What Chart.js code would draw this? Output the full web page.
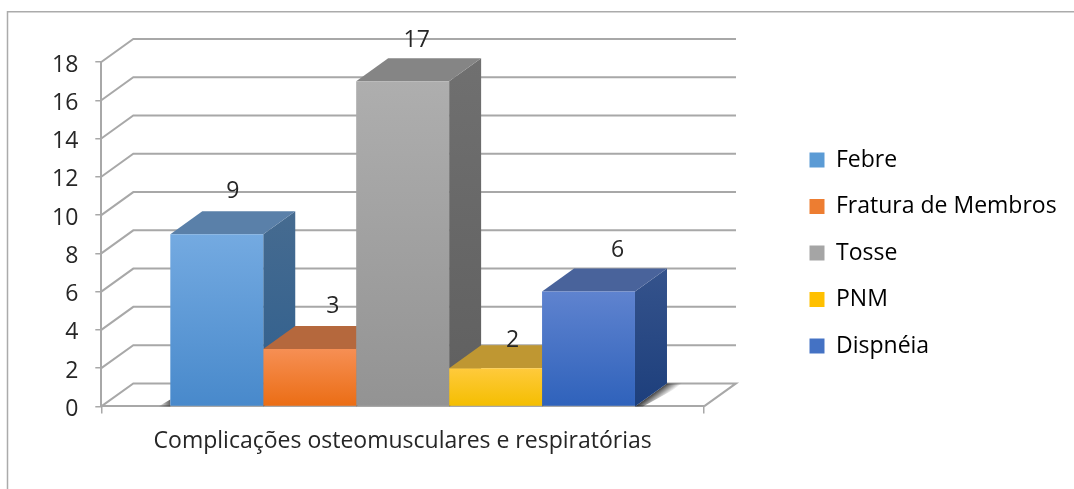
<!DOCTYPE html>
<html>
<head>
<meta charset="utf-8">
<title>Complicações osteomusculares e respiratórias</title>
<script src="https://cdn.jsdelivr.net/npm/chart.js@4"></script>
<style>
  html, body { margin: 0; padding: 0; background: #fff; }
  canvas { display: block; filter: blur(0.4px); }
</style>
</head>
<body>
<canvas id="chart" width="1074" height="489"></canvas>
<script>
const categories = ['Complicações osteomusculares e respiratórias'];
const seriesNames = ['Febre', 'Fratura de Membros', 'Tosse', 'PNM', 'Dispnéia'];
const seriesValues = [9, 3, 17, 2, 6];
const yMax = 18;
const yStep = 2;

// face colours per series: front top, front bottom, top face, side top, side bottom
const faceColors = [
    ['#74aae1', '#4889cb', '#5a80a9', '#466b90', '#2f5f8e'],
    ['#f68f54', '#eb6d14', '#b5683d', '#a85a30', '#98501f'],
    ['#aeaeae', '#939393', '#858585', '#707070', '#5f5f5f'],
    ['#ffca3c', '#f4be00', '#bf9732', '#a88520', '#937310'],
    ['#5f83cf', '#2f62bb', '#49639b', '#35538c', '#1d3f7c']
];
const legendColors = ['#5b9bd5', '#ed7d31', '#a5a5a5', '#ffc000', '#4472c4'];

const depthX = 32;
const depthY = 23;
const gridColor = '#a8a8a8';
const textColor = '#262626';
const fontFamily = 'Open Sans';
const fontSize = 23;
// hand placed labels in the original, offset from the centre of the back edge
const labelNudge = [[0, -20], [7, -20], [-2, -18], [1, -5], [13, -18]];

function barGradient(c) {
    const chart = c.chart;
    const i = c.datasetIndex;
    if (!chart.chartArea) return faceColors[i][0];
    const y = chart.scales.y;
    const g = chart.ctx.createLinearGradient(0, y.getPixelForValue(seriesValues[i]), 0, y.getPixelForValue(0));
    g.addColorStop(0, faceColors[i][0]);
    g.addColorStop(1, faceColors[i][1]);
    return g;
}

function poly(ctx, pts, fill) {
    ctx.beginPath();
    pts.forEach((p, n) => n === 0 ? ctx.moveTo(p[0], p[1]) : ctx.lineTo(p[0], p[1]));
    ctx.closePath();
    ctx.fillStyle = fill;
    ctx.fill();
}

const framePlugin = {
    id: 'frame',
    beforeDraw(chart) {
        const ctx = chart.ctx;
        ctx.save();
        ctx.strokeStyle = '#ababab';
        ctx.lineWidth = 1.5;
        ctx.beginPath();
        ctx.moveTo(7.5, 489);
        ctx.lineTo(7.5, 11.7);
        ctx.lineTo(1074, 11.7);
        ctx.stroke();
        ctx.restore();
    }
};

// moves the legend to where the original has it, the plot keeps its width
const legendPlugin = {
    id: 'legendSpot',
    afterLayout(chart) {
        chart.legend.left = 786;
        chart.legend.right = 1074;
        chart.legend.top = 125;
        chart.legend.bottom = 489;
    }
};

// back wall, floor, drop shadows and the top and side faces of the bars
const box3dPlugin = {
    id: 'box3d',
    beforeDatasetsDraw(chart) {
        const ctx = chart.ctx;
        const area = chart.chartArea;
        const yScale = chart.scales.y;
        const base = yScale.getPixelForValue(0);

        ctx.save();
        ctx.strokeStyle = gridColor;
        ctx.lineWidth = 2;
        yScale.ticks.forEach(t => {
            const y = yScale.getPixelForValue(t.value);
            ctx.beginPath();
            ctx.moveTo(area.left, y);
            ctx.lineTo(area.left + depthX, y - depthY);
            ctx.lineTo(area.right + depthX, y - depthY);
            if (t.value === 0) ctx.lineTo(area.right, y);
            ctx.stroke();
        });

        const bars = chart.data.datasets.map((d, i) => chart.getDatasetMeta(i).data[0]);

        const first = bars[0];
        const left = first.x - first.width / 2;
        const shadowL = ctx.createLinearGradient(left - 12, 0, left, 0);
        shadowL.addColorStop(0, 'rgba(70,70,70,0)');
        shadowL.addColorStop(1, 'rgba(70,70,70,0.85)');
        poly(ctx, [[left, base - 7], [left, base], [left - 12, base]], shadowL);

        const last = bars[bars.length - 1];
        const right = last.x + last.width / 2;
        const shadowR = ctx.createLinearGradient(right, base, right + 6, base + 8);
        shadowR.addColorStop(0, 'rgba(45,45,45,0.95)');
        shadowR.addColorStop(1, 'rgba(45,45,45,0)');
        poly(ctx, [[right, base], [right + depthX, base - depthY], [right + 50, base - depthY], [right + 8, base]], shadowR);

        bars.forEach((bar, i) => {
            const l = bar.x - bar.width / 2;
            const r = bar.x + bar.width / 2;
            const top = bar.y;
            const c = faceColors[i];
            const side = ctx.createLinearGradient(0, top - depthY, 0, base);
            side.addColorStop(0, c[3]);
            side.addColorStop(1, c[4]);
            poly(ctx, [[r, top], [r + depthX, top - depthY], [r + depthX, base - depthY], [r, base]], side);
            poly(ctx, [[l, top], [l + depthX, top - depthY], [r + depthX, top - depthY], [r, top]], c[2]);
        });
        ctx.restore();
    },
    afterDatasetsDraw(chart) {
        const ctx = chart.ctx;
        ctx.save();
        ctx.font = fontSize + 'px "' + fontFamily + '"';
        ctx.fillStyle = textColor;
        ctx.textAlign = 'center';
        ctx.textBaseline = 'middle';
        chart.data.datasets.forEach((d, i) => {
            const bar = chart.getDatasetMeta(i).data[0];
            const x = bar.x + depthX / 2 + labelNudge[i][0];
            const y = bar.y - depthY + labelNudge[i][1];
            ctx.fillText(String(seriesValues[i]), x, y);
        });
        ctx.restore();
    }
};

new Chart(document.getElementById('chart').getContext('2d'), {
    type: 'bar',
    data: {
        labels: categories,
        datasets: seriesNames.map((name, i) => ({
            label: name,
            data: [seriesValues[i]],
            backgroundColor: barGradient,
            borderWidth: 0,
            categoryPercentage: 0.771,
            barPercentage: 1
        }))
    },
    options: {
        responsive: false,
        animation: false,
        layout: { padding: { left: 35, right: 147, top: 62, bottom: 20 } },
        plugins: {
            tooltip: { enabled: false },
            legend: {
                position: 'right',
                align: 'start',
                labels: {
                    boxWidth: 15,
                    boxHeight: 15,
                    padding: 23.5,
                    color: textColor,
                    font: { family: fontFamily, size: fontSize },
                    generateLabels: () => seriesNames.map((name, i) => ({
                        text: name,
                        fillStyle: legendColors[i],
                        strokeStyle: 'rgba(0,0,0,0)',
                        lineWidth: 0,
                        datasetIndex: i
                    }))
                }
            }
        },
        scales: {
            x: {
                grid: { drawOnChartArea: false, tickLength: 7, color: gridColor, lineWidth: 1.5 },
                border: { color: gridColor, width: 2 },
                ticks: { color: textColor, padding: 14, maxRotation: 0, font: { family: fontFamily, size: fontSize } }
            },
            y: {
                min: 0,
                max: yMax,
                grid: { drawOnChartArea: false, tickLength: 6, color: gridColor, lineWidth: 1.5 },
                border: { color: gridColor, width: 2 },
                ticks: { stepSize: yStep, color: textColor, padding: 17, labelOffset: 3, font: { family: fontFamily, size: fontSize } }
            }
        }
    },
    plugins: [framePlugin, legendPlugin, box3dPlugin]
});
</script>
</body>
</html>
